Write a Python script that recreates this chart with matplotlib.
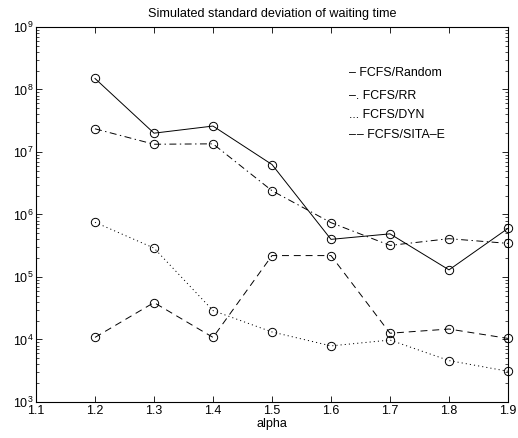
import numpy as np
import matplotlib
matplotlib.use("Agg")
import matplotlib.pyplot as plt
from matplotlib.ticker import NullFormatter

plt.rcParams['font.family'] = ['Liberation Sans', 'DejaVu Sans']
plt.rcParams['mathtext.default'] = 'regular'
plt.rcParams['lines.scale_dashes'] = False

alpha = [1.2, 1.3, 1.4, 1.5, 1.6, 1.7, 1.8, 1.9]
random_sd = [1.5e8, 2.0e7, 2.6e7, 6.3e6, 4.0e5, 4.9e5, 1.3e5, 6.0e5]
rr_sd = [2.35e7, 1.33e7, 1.35e7, 2.4e6, 7.4e5, 3.2e5, 4.1e5, 3.45e5]
dyn_sd = [7.5e5, 2.9e5, 2.9e4, 1.32e4, 7.9e3, 9.8e3, 4.6e3, 3.1e3]
sita_sd = [1.08e4, 3.9e4, 1.08e4, 2.2e5, 2.2e5, 1.26e4, 1.47e4, 1.04e4]

x_ticks = [1.1, 1.2, 1.3, 1.4, 1.5, 1.6, 1.7, 1.8, 1.9]
y_exps = [3, 4, 5, 6, 7, 8, 9]

legend_lines = ["\u2013 FCFS/Random", "\u2013. FCFS/RR", "... FCFS/DYN",
                "\u2013\u200a\u2013 FCFS/SITA\u2013E"]

fig = plt.figure(figsize=(5.18, 4.38), dpi=100)
ax = fig.add_axes([0.0695, 0.0822, 0.9112, 0.8562])

mk = dict(marker='o', mfc='none', mec='black', ms=6, mew=0.7, color='black',
          lw=0.7, clip_on=False)
ax.plot(alpha, random_sd, linestyle='-', **mk)
ax.plot(alpha, rr_sd, linestyle=(0, (5, 2.5, 1, 2.5)), **mk)
ax.plot(alpha, dyn_sd, linestyle=(0, (0.8, 2.2)), **mk)
ax.plot(alpha, sita_sd, linestyle=(0, (5, 3.5)), **mk)

ax.set_yscale('log')
ax.set_xlim(1.1, 1.9)
ax.set_ylim(1e3, 1e9)
ax.set_xticks(x_ticks)
ax.set_xticklabels(["%.1f" % v for v in x_ticks])
ax.set_yticks([10.0 ** e for e in y_exps])
ax.set_yticklabels(["$10^{%d}$" % e for e in y_exps])
minor = [m * 10.0 ** e for e in y_exps[:-1] for m in range(2, 10)]
ax.set_yticks(minor, minor=True)
ax.yaxis.set_minor_formatter(NullFormatter())
ax.tick_params(which='both', direction='in', top=True, right=True, labelsize=9, pad=2)
ax.tick_params(which='major', length=4, width=0.6)
ax.tick_params(which='minor', length=2, width=0.5)
for s in ax.spines.values():
    s.set_linewidth(0.8)

ax.set_title("Simulated standard deviation of waiting time", fontsize=9.1, pad=7)
ax.set_xlabel("alpha", fontsize=9, labelpad=1)

legend_y = [0.877, 0.815, 0.764, 0.713]
for txt, yy in zip(legend_lines, legend_y):
    ax.text(0.663, yy, txt, transform=ax.transAxes, fontsize=8.9, va='center', ha='left')

fig.savefig("out.png", dpi=100)
